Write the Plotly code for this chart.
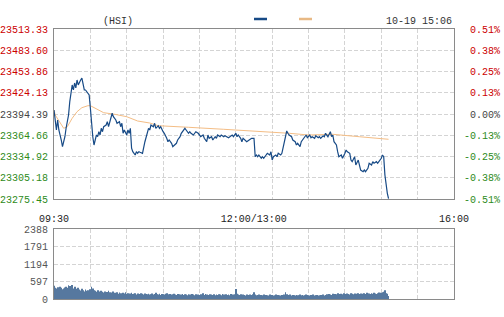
import plotly.graph_objects as go

# ---------------- data ----------------
prev_close = 23394.39
price_ticks = [23513.33, 23483.60, 23453.86, 23424.13, 23394.39,
               23364.66, 23334.92, 23305.18, 23275.45]
pct_labels = ["0.51%", "0.38%", "0.25%", "0.13%", "0.00%",
              "-0.13%", "-0.25%", "-0.38%", "-0.51%"]
vol_ticks = [0, 597, 1194, 1791, 2388]
time_labels = {0: "09:30", 150: "12:00/13:00", 330: "16:00"}

# minutes after 09:30 (trading minutes, lunch break removed) and last price
price_minutes = [0, 1, 2, 3, 4, 6, 7, 8, 9, 10, 12, 13, 14, 15, 16, 17, 18, 19, 20,
                 21, 22, 23, 24, 25, 26, 27, 29, 30, 31, 32, 33, 34, 35, 36, 37, 38,
                 39, 40, 41, 43, 44, 45, 47, 48, 49, 51, 52, 54, 55, 56, 57, 58, 60,
                 61, 62, 63, 64, 65, 67, 68, 69, 70, 71, 73, 75, 76, 78, 79, 80, 82,
                 83, 84, 86, 87, 88, 90, 91, 93, 94, 95, 97, 98, 100, 101, 102, 104,
                 105, 106, 108, 109, 111, 112, 113, 115, 116, 117, 119, 120, 121, 123,
                 124, 126, 127, 128, 130, 131, 133, 134, 135, 137, 138, 140, 141, 144,
                 147, 148, 150, 151, 152, 154, 155, 156, 158, 159, 161, 163, 165, 166,
                 167, 168, 169, 171, 172, 173, 175, 176, 178, 179, 180, 181, 183, 184,
                 185, 187, 188, 189, 191, 192, 193, 194, 196, 197, 199, 200, 201, 203,
                 204, 205, 207, 208, 209, 211, 212, 213, 215, 216, 218, 219, 220, 222,
                 223, 224, 226, 227, 228, 229, 230, 231, 233, 234, 235, 237, 238, 240,
                 241, 242, 244, 245, 246, 248, 249, 251, 252, 253, 255, 256, 257, 259,
                 260, 262, 263, 264, 266, 267, 268, 270, 271, 272, 273, 274, 275, 276]
price_values = [23400.0, 23388.8, 23372.0, 23386.0, 23372.0, 23358.0, 23348.6, 23355.6,
                23362.6, 23374.8, 23393.0, 23411.6, 23428.0, 23435.0, 23428.0, 23437.8,
                23430.8, 23442.0, 23435.0, 23439.7, 23442.0, 23444.7, 23435.0, 23428.0,
                23428.0, 23425.6, 23421.0, 23402.8, 23379.0, 23362.6, 23351.0, 23358.0,
                23365.0, 23362.6, 23369.6, 23365.0, 23374.4, 23369.6, 23376.6, 23379.0,
                23383.6, 23376.6, 23388.4, 23395.4, 23390.6, 23386.0, 23381.4, 23383.6,
                23376.6, 23381.4, 23367.4, 23372.0, 23365.0, 23372.0, 23367.4, 23374.4,
                23346.5, 23341.6, 23337.0, 23341.6, 23339.4, 23341.6, 23340.8, 23339.4,
                23355.6, 23362.6, 23374.4, 23372.0, 23379.0, 23376.6, 23381.4, 23374.4,
                23378.0, 23374.4, 23376.6, 23369.6, 23367.4, 23360.4, 23355.6, 23358.0,
                23353.4, 23348.6, 23351.0, 23353.4, 23358.0, 23362.6, 23367.4, 23369.6,
                23374.4, 23372.0, 23367.4, 23369.6, 23367.4, 23365.0, 23367.4, 23369.6,
                23367.4, 23365.0, 23362.6, 23365.0, 23360.4, 23355.6, 23365.0, 23360.4,
                23362.6, 23358.0, 23362.6, 23360.4, 23365.0, 23362.6, 23365.0, 23362.6,
                23364.0, 23361.2, 23365.0, 23362.6, 23367.4, 23362.6, 23365.0, 23360.4,
                23355.6, 23360.4, 23358.0, 23355.6, 23358.0, 23360.4, 23360.4, 23334.6,
                23337.0, 23334.6, 23337.0, 23332.4, 23334.6, 23332.4, 23337.0, 23339.4,
                23337.0, 23341.6, 23330.0, 23334.6, 23337.0, 23334.6, 23339.4, 23337.0,
                23339.4, 23346.4, 23360.4, 23370.6, 23367.4, 23365.0, 23362.6, 23358.0,
                23355.6, 23351.0, 23353.4, 23348.6, 23355.6, 23358.0, 23362.6, 23365.0,
                23361.2, 23365.0, 23361.2, 23362.6, 23360.4, 23364.0, 23361.2, 23362.6,
                23360.4, 23364.0, 23362.6, 23367.4, 23362.6, 23367.4, 23369.6, 23362.6,
                23365.0, 23355.6, 23351.0, 23341.6, 23334.6, 23337.0, 23332.4, 23339.4,
                23344.0, 23341.6, 23339.4, 23330.0, 23327.7, 23334.6, 23323.0, 23330.0,
                23320.7, 23316.0, 23313.7, 23316.0, 23313.7, 23318.4, 23325.4, 23323.0,
                23327.7, 23325.4, 23327.7, 23325.4, 23327.7, 23332.4, 23337.0, 23334.6,
                23309.0, 23295.0, 23283.4, 23276.0]

# average price line
avg_minutes = [0, 1, 8, 11, 15, 19, 23, 28, 30, 34, 41, 50, 60, 69, 79, 86, 96, 111,
               140, 166, 194, 210, 230, 252, 276]
avg_values = [23400.0, 23393.0, 23374.4, 23376.6, 23388.4, 23397.6, 23403.2, 23406.0,
              23406.0, 23402.4, 23396.2, 23394.0, 23390.6, 23384.6, 23381.8, 23378.0,
              23377.5, 23375.8, 23373.0, 23370.6, 23367.4, 23365.0, 23366.0, 23362.6,
              23359.0]

# per-minute volume, minutes 0..276
volume_values = [
    450, 380, 360, 400, 350, 420, 380, 330, 360, 390,
    420, 380, 470, 440, 400, 480, 360, 420, 300, 350,
    380, 320, 290, 350, 300, 260, 320, 280, 300, 250,
    330, 420, 360, 300, 280, 250, 300, 260, 240, 280,
    250, 220, 260, 200, 240, 280, 230, 200, 220, 260,
    210, 190, 230, 180, 220, 200, 170, 210, 190, 230,
    180, 200, 160, 190, 210, 170, 180, 200, 150, 190,
    170, 160, 200, 180, 150, 190, 170, 160, 180, 150,
    160, 190, 150, 170, 210, 160, 150, 180, 140, 170,
    160, 150, 180, 200, 160, 140, 170, 150, 160, 180,
    150, 140, 170, 160, 130, 150, 170, 140, 160, 150,
    130, 160, 150, 140, 170, 150, 130, 160, 140, 150,
    140, 160, 130, 200, 140, 170, 150, 140, 130, 160,
    150, 140, 160, 130, 150, 140, 160, 150, 130, 170,
    150, 130, 160, 140, 150, 130, 170, 140, 150, 160,
    340, 180, 150, 140, 160, 130, 150, 140, 120, 150,
    140, 130, 150, 140, 160, 230, 150, 130, 140, 150,
    120, 140, 130, 150, 120, 140, 130, 120, 150, 130,
    140, 120, 130, 150, 120, 140, 130, 120, 140, 130,
    150, 230, 160, 140, 130, 150, 120, 140, 130, 120,
    140, 130, 120, 150, 130, 140, 120, 130, 150, 140,
    130, 120, 140, 130, 150, 120, 130, 140, 120, 130,
    140, 130, 150, 120, 140, 160, 130, 170, 150, 140,
    180, 150, 170, 160, 200, 150, 170, 180, 160, 200,
    170, 160, 190, 170, 150, 200, 180, 160, 190, 170,
    180, 200, 170, 190, 160, 180, 200, 170, 210, 180,
    190, 170, 200, 180, 210, 190, 170, 200, 220, 190,
    210, 230, 250, 300, 200, 180, 100,
]

# ---------------- styling ----------------
W, H = 504, 317
FONT = "Liberation Mono"
RED, GREEN, GRAY = "#cc0000", "#2e8b1a", "#444444"
GRID = "#d4d4d4"
BORDER = "#8a8a8a"

def px_x(p):
    return p / W

def px_y(p):
    return 1 - p / H

main_dom_x = [px_x(54), px_x(454)]
main_dom_y = [px_y(199), px_y(29)]
vol_dom_y = [px_y(299), px_y(229)]

def colored(v):
    txt = f"{v:.2f}"
    if v > prev_close + 0.01:
        c = RED
    elif v < prev_close - 0.01:
        c = GREEN
    else:
        c = GRAY
    return f"<span style='color:{c}'>{txt}</span>"

left_text = [colored(v) for v in price_ticks]
pct_vals = [(v - prev_close) / prev_close * 100 for v in price_ticks]
right_text = []
for lab in pct_labels:
    c = GRAY if lab == "0.00%" else (GREEN if lab.startswith("-") else RED)
    pad = "" if lab.startswith("-") else "\u00a0"
    right_text.append(f"<span style='color:{c}'>{pad}{lab}</span>")

grid_minutes = list(range(0, 331, 30))
grid_text = [time_labels.get(m, "") for m in grid_minutes]
grid_text = ["\u00a0" * 6 + t if t == "12:00/13:00" else t for t in grid_text]

fig = go.Figure()

fig.add_trace(go.Scatter(x=avg_minutes, y=avg_values, mode="lines",
                         line=dict(color="#f4bd85", width=1),
                         xaxis="x", yaxis="y", hoverinfo="skip", showlegend=False))
fig.add_trace(go.Scatter(x=price_minutes, y=price_values, mode="lines",
                         line=dict(color="#174a86", width=1.2),
                         xaxis="x", yaxis="y", hoverinfo="skip", showlegend=False))
fig.add_trace(go.Scatter(x=price_minutes,
                         y=[(v - prev_close) / prev_close * 100 for v in price_values],
                         mode="lines", line=dict(width=0), opacity=0,
                         xaxis="x", yaxis="y2", hoverinfo="skip", showlegend=False))
fig.add_trace(go.Bar(x=list(range(len(volume_values))), y=volume_values,
                     marker=dict(color="#56789f", line=dict(width=0)),
                     width=0.7, xaxis="x2", yaxis="y3",
                     hoverinfo="skip", showlegend=False))

axis_common = dict(showline=True, linecolor=BORDER, linewidth=1, mirror=True,
                   gridcolor=GRID, griddash="4px,2px", gridwidth=1,
                   zeroline=False, ticks="", fixedrange=True, automargin=False)

fig.update_layout(
    width=W, height=H,
    margin=dict(l=0, r=0, t=0, b=0),
    paper_bgcolor="white", plot_bgcolor="white",
    font=dict(family=FONT, size=10, color=GRAY),
    showlegend=False,
    xaxis=dict(domain=main_dom_x, range=[0, 330], anchor="y",
               tickmode="array", tickvals=grid_minutes, ticktext=grid_text,
               tickfont=dict(color="#222222"), ticklabelstandoff=10,
               **axis_common),
    yaxis=dict(domain=main_dom_y, range=[price_ticks[-1], price_ticks[0]], anchor="x",
               tickmode="array", tickvals=price_ticks, ticktext=left_text,
               ticklabelstandoff=3, **axis_common),
    yaxis2=dict(overlaying="y", side="right", anchor="x",
                range=[pct_vals[-1], pct_vals[0]],
                tickmode="array", tickvals=pct_vals, ticktext=right_text,
                showgrid=False, showline=False, zeroline=False, ticks="",
                ticklabelstandoff=9, fixedrange=True, automargin=False),
    xaxis2=dict(domain=main_dom_x, range=[0, 330], anchor="y3",
                tickmode="array", tickvals=grid_minutes, showticklabels=False,
                **axis_common),
    yaxis3=dict(domain=vol_dom_y, range=[0, vol_ticks[-1]], anchor="x2",
                tickmode="array", tickvals=vol_ticks,
                ticktext=[str(v) for v in vol_ticks],
                tickfont=dict(color="#555555"), ticklabelstandoff=3,
                **axis_common),
    bargap=0.2,
)

# header texts
fig.add_annotation(x=px_x(118), y=px_y(21), xref="paper", yref="paper",
                   text="(HSI)", showarrow=False, xanchor="center", yanchor="middle",
                   font=dict(family=FONT, size=10, color="#333333"))
fig.add_annotation(x=px_x(454), y=px_y(21), xref="paper", yref="paper",
                   text="10-19 15:06", showarrow=False, xanchor="right", yanchor="middle",
                   font=dict(family=FONT, size=10, color="#333333"))
# legend swatches
fig.add_shape(type="line", xref="paper", yref="paper",
              x0=px_x(254), x1=px_x(267), y0=px_y(19), y1=px_y(19),
              line=dict(color="#174a86", width=2.5))
fig.add_shape(type="line", xref="paper", yref="paper",
              x0=px_x(299), x1=px_x(312), y0=px_y(19), y1=px_y(19),
              line=dict(color="#e8b985", width=2.5))

fig.write_html("out.html", config={"displayModeBar": False})
